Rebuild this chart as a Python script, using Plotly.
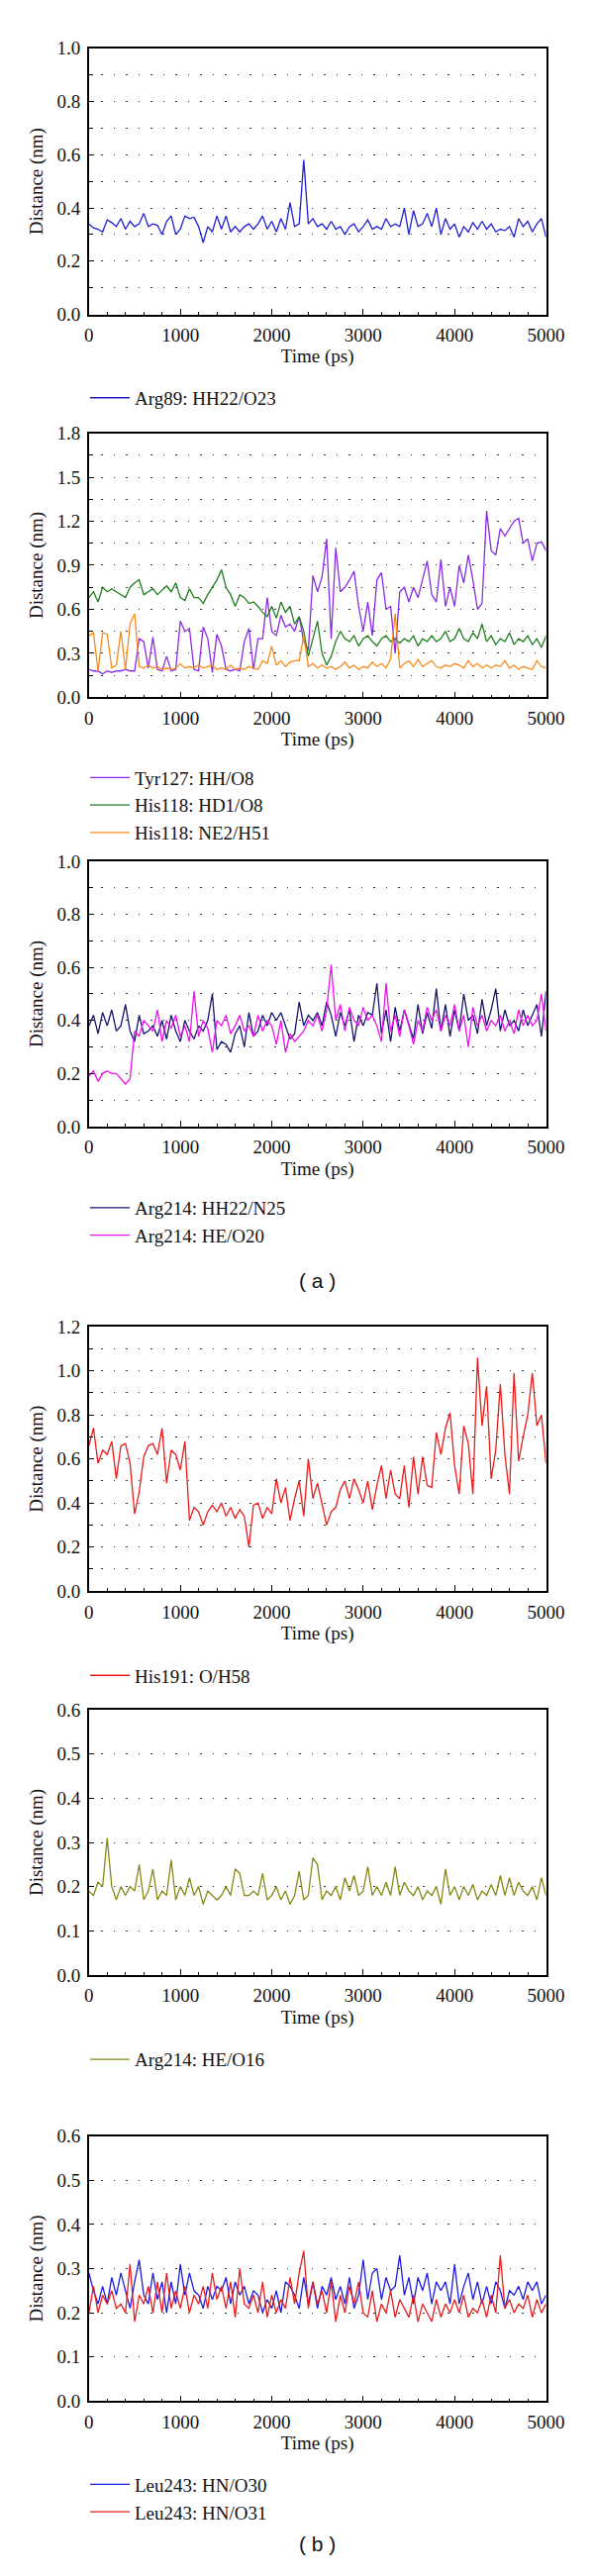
import plotly.graph_objects as go

# ---------------- data ----------------
time_ps = list(range(0, 5001, 50))

arg89_hh22_o23 = [
    0.34, 0.325, 0.32, 0.31, 0.355, 0.345, 0.33, 0.36, 0.32, 0.35,
    0.33, 0.34, 0.38, 0.33, 0.34, 0.335, 0.30, 0.35, 0.37, 0.30,
    0.32, 0.37, 0.36, 0.365, 0.33, 0.27, 0.33, 0.31, 0.37, 0.32,
    0.37, 0.31, 0.33, 0.31, 0.33, 0.34, 0.32, 0.34, 0.37, 0.32,
    0.35, 0.31, 0.36, 0.32, 0.42, 0.33, 0.34, 0.58, 0.34, 0.36,
    0.33, 0.34, 0.32, 0.35, 0.32, 0.33, 0.30, 0.33, 0.34, 0.31,
    0.33, 0.355, 0.32, 0.33, 0.32, 0.36, 0.33, 0.34, 0.33, 0.40,
    0.30, 0.39, 0.33, 0.34, 0.38, 0.33, 0.40, 0.30, 0.36, 0.32,
    0.34, 0.29, 0.33, 0.31, 0.345, 0.32, 0.35, 0.32, 0.34, 0.31,
    0.32, 0.315, 0.33, 0.29, 0.36, 0.33, 0.35, 0.31, 0.34, 0.36,
    0.29]

tyr127_hh_o8 = [
    0.19, 0.18, 0.18, 0.16, 0.18, 0.17, 0.18, 0.18, 0.19, 0.18,
    0.18, 0.40, 0.38, 0.20, 0.41, 0.19, 0.18, 0.28, 0.18, 0.19,
    0.52, 0.45, 0.47, 0.19, 0.18, 0.48, 0.40, 0.17, 0.43, 0.35,
    0.19, 0.18, 0.19, 0.18, 0.38, 0.47, 0.19, 0.40, 0.40, 0.68,
    0.45, 0.42, 0.56, 0.48, 0.50, 0.45, 0.55, 0.38, 0.32, 0.83,
    0.72, 0.82, 1.08, 0.40, 1.02, 0.72, 0.75, 0.80, 0.86, 0.62,
    0.45, 0.65, 0.42, 0.80, 0.85, 0.60, 0.62, 0.30, 0.72, 0.75,
    0.65, 0.75, 0.68, 0.80, 0.93, 0.70, 0.65, 0.94, 0.62, 0.75,
    0.62, 0.90, 0.78, 0.97, 0.80, 0.60, 0.64, 1.27, 1.00, 0.97,
    1.15, 1.10, 1.15, 1.20, 1.22, 1.05, 1.08, 0.93, 1.05, 1.06,
    1.00]

his118_hd1_o8 = [
    0.68, 0.72, 0.65, 0.75, 0.72, 0.74, 0.72, 0.70, 0.68, 0.75,
    0.78, 0.80, 0.70, 0.72, 0.74, 0.70, 0.73, 0.76, 0.72, 0.78,
    0.68, 0.66, 0.74, 0.68, 0.68, 0.64, 0.70, 0.75, 0.80, 0.87,
    0.75, 0.70, 0.62, 0.70, 0.68, 0.64, 0.65, 0.62, 0.58, 0.55,
    0.62, 0.54, 0.65, 0.58, 0.62, 0.50, 0.55, 0.45, 0.28, 0.40,
    0.52, 0.30, 0.22, 0.28, 0.38, 0.45, 0.40, 0.38, 0.42, 0.35,
    0.40, 0.42, 0.38, 0.35, 0.40, 0.42, 0.38, 0.40, 0.37, 0.40,
    0.38, 0.42, 0.35, 0.40, 0.38, 0.42, 0.38, 0.40, 0.45, 0.38,
    0.40, 0.47, 0.40, 0.38, 0.44, 0.40, 0.50, 0.38, 0.42, 0.36,
    0.40, 0.38, 0.44, 0.36, 0.40, 0.38, 0.42, 0.36, 0.40, 0.34,
    0.42]

his118_ne2_h51 = [
    0.42, 0.44, 0.18, 0.44, 0.43, 0.20, 0.22, 0.45, 0.19, 0.50,
    0.57, 0.21, 0.20, 0.22, 0.20, 0.21, 0.19, 0.20, 0.19, 0.20,
    0.23, 0.20, 0.21, 0.20, 0.22, 0.20, 0.21, 0.22, 0.19, 0.20,
    0.19, 0.22, 0.19, 0.20, 0.19, 0.21, 0.20, 0.19, 0.25, 0.23,
    0.35, 0.22, 0.25, 0.21, 0.24, 0.25, 0.25, 0.42, 0.21, 0.23,
    0.20, 0.22, 0.20, 0.21, 0.19, 0.21, 0.24, 0.20, 0.22, 0.19,
    0.21, 0.20, 0.24, 0.21, 0.23, 0.20, 0.26, 0.57, 0.20, 0.23,
    0.25, 0.21, 0.26, 0.21, 0.23, 0.25, 0.21, 0.20, 0.22, 0.21,
    0.23, 0.22, 0.20, 0.25, 0.21, 0.23, 0.20, 0.22, 0.20, 0.22,
    0.21, 0.25, 0.20, 0.22, 0.19, 0.21, 0.20, 0.19, 0.25, 0.21,
    0.20]

arg214_hh22_n25 = [
    0.38, 0.42, 0.35, 0.43, 0.38, 0.44, 0.36, 0.38, 0.46, 0.36,
    0.32, 0.42, 0.35, 0.36, 0.38, 0.34, 0.40, 0.33, 0.42, 0.36,
    0.32, 0.40, 0.36, 0.33, 0.38, 0.36, 0.40, 0.50, 0.29, 0.32,
    0.31, 0.28, 0.35, 0.38, 0.30, 0.43, 0.34, 0.36, 0.42, 0.38,
    0.43, 0.40, 0.43, 0.38, 0.33, 0.35, 0.47, 0.38, 0.42, 0.40,
    0.43, 0.38, 0.47, 0.42, 0.34, 0.43, 0.38, 0.44, 0.32, 0.42,
    0.38, 0.43, 0.42, 0.54, 0.35, 0.44, 0.32, 0.45, 0.36, 0.44,
    0.38, 0.33, 0.46, 0.35, 0.43, 0.37, 0.52, 0.36, 0.46, 0.34,
    0.44, 0.36, 0.50, 0.40, 0.42, 0.35, 0.48, 0.38, 0.44, 0.52,
    0.36, 0.44, 0.38, 0.40, 0.36, 0.44, 0.38, 0.42, 0.46, 0.34,
    0.51]

arg214_he_o20 = [
    0.19, 0.21, 0.17, 0.20, 0.21, 0.20, 0.20, 0.18, 0.16, 0.18,
    0.36, 0.34, 0.40, 0.38, 0.36, 0.44, 0.32, 0.40, 0.37, 0.42,
    0.34, 0.38, 0.32, 0.51, 0.34, 0.40, 0.37, 0.28, 0.40, 0.38,
    0.42, 0.35, 0.38, 0.42, 0.36, 0.38, 0.34, 0.42, 0.36, 0.40,
    0.38, 0.31, 0.40, 0.28, 0.35, 0.32, 0.34, 0.36, 0.40, 0.38,
    0.42, 0.36, 0.44, 0.61, 0.40, 0.46, 0.36, 0.45, 0.40, 0.38,
    0.45, 0.40, 0.42, 0.38, 0.32, 0.54, 0.36, 0.42, 0.34, 0.44,
    0.38, 0.31, 0.40, 0.36, 0.45, 0.40, 0.44, 0.36, 0.42, 0.38,
    0.46, 0.36, 0.42, 0.30, 0.45, 0.38, 0.42, 0.36, 0.40, 0.38,
    0.42, 0.36, 0.40, 0.35, 0.44, 0.38, 0.42, 0.38, 0.40, 0.50,
    0.36]

his191_o_h58 = [
    0.66, 0.74, 0.58, 0.64, 0.62, 0.68, 0.51, 0.66, 0.67, 0.58,
    0.35, 0.45, 0.61, 0.66, 0.67, 0.62, 0.74, 0.49, 0.64, 0.62,
    0.55, 0.68, 0.32, 0.38, 0.36, 0.30, 0.36, 0.39, 0.36, 0.40,
    0.34, 0.38, 0.33, 0.37, 0.34, 0.20, 0.39, 0.40, 0.33, 0.38,
    0.35, 0.51, 0.40, 0.47, 0.32, 0.42, 0.50, 0.34, 0.60, 0.42,
    0.49, 0.40, 0.30, 0.36, 0.38, 0.46, 0.50, 0.42, 0.51, 0.46,
    0.40, 0.50, 0.37, 0.48, 0.57, 0.42, 0.55, 0.44, 0.42, 0.57,
    0.38, 0.61, 0.44, 0.61, 0.48, 0.47, 0.72, 0.62, 0.74, 0.81,
    0.57, 0.44, 0.75, 0.67, 0.44, 1.06, 0.75, 0.93, 0.51, 0.64,
    0.94, 0.62, 0.44, 0.99, 0.59, 0.70, 0.80, 0.99, 0.75, 0.80,
    0.58]

arg214_he_o16 = [
    0.19, 0.18, 0.21, 0.20, 0.31, 0.20, 0.17, 0.20, 0.18, 0.20,
    0.19, 0.25, 0.17, 0.19, 0.24, 0.17, 0.19, 0.18, 0.26, 0.17,
    0.20, 0.18, 0.22, 0.18, 0.20, 0.16, 0.19, 0.18, 0.17, 0.18,
    0.20, 0.18, 0.24, 0.23, 0.18, 0.18, 0.19, 0.18, 0.23, 0.17,
    0.18, 0.20, 0.17, 0.19, 0.16, 0.18, 0.235, 0.17, 0.18, 0.265,
    0.25, 0.17, 0.19, 0.18, 0.20, 0.17, 0.22, 0.19, 0.225, 0.18,
    0.19, 0.245, 0.18, 0.20, 0.18, 0.21, 0.18, 0.245, 0.18, 0.21,
    0.19, 0.18, 0.20, 0.17, 0.19, 0.18, 0.20, 0.16, 0.24, 0.18,
    0.20, 0.17, 0.20, 0.18, 0.205, 0.17, 0.19, 0.18, 0.205, 0.18,
    0.225, 0.18, 0.22, 0.18, 0.21, 0.19, 0.18, 0.20, 0.17, 0.22,
    0.18]

leu243_hn_o30 = [
    0.29, 0.25, 0.22, 0.26, 0.22, 0.28, 0.24, 0.29, 0.25, 0.21,
    0.27, 0.32, 0.24, 0.22, 0.29, 0.23, 0.27, 0.20, 0.27, 0.22,
    0.31, 0.24, 0.29, 0.25, 0.24, 0.21, 0.26, 0.23, 0.26, 0.25,
    0.28, 0.22, 0.27, 0.24, 0.26, 0.22, 0.25, 0.24, 0.20, 0.23,
    0.21, 0.25, 0.20, 0.27, 0.26, 0.24, 0.21, 0.28, 0.22, 0.27,
    0.21, 0.26, 0.24, 0.28, 0.23, 0.26, 0.22, 0.28, 0.21, 0.24,
    0.32, 0.23, 0.29, 0.30, 0.23, 0.28, 0.25, 0.26, 0.33, 0.24,
    0.28, 0.22, 0.28, 0.25, 0.29, 0.22, 0.27, 0.25, 0.27, 0.22,
    0.31, 0.22, 0.26, 0.29, 0.23, 0.27, 0.22, 0.26, 0.22, 0.27,
    0.25, 0.21, 0.25, 0.24, 0.26, 0.23, 0.27, 0.25, 0.27, 0.22,
    0.24]

leu243_hn_o31 = [
    0.20, 0.26, 0.20, 0.24, 0.22, 0.25, 0.21, 0.22, 0.20, 0.31,
    0.18, 0.24, 0.22, 0.26, 0.20, 0.27, 0.20, 0.29, 0.21, 0.25,
    0.21, 0.26, 0.20, 0.24, 0.22, 0.26, 0.21, 0.29, 0.23, 0.26,
    0.21, 0.27, 0.19, 0.30, 0.22, 0.21, 0.24, 0.20, 0.27, 0.19,
    0.24, 0.20, 0.23, 0.21, 0.28, 0.22, 0.29, 0.34, 0.21, 0.27,
    0.22, 0.25, 0.20, 0.27, 0.18, 0.24, 0.20, 0.26, 0.22, 0.27,
    0.20, 0.19, 0.25, 0.18, 0.22, 0.20, 0.25, 0.19, 0.23, 0.21,
    0.19, 0.24, 0.18, 0.22, 0.20, 0.18, 0.23, 0.19, 0.22, 0.20,
    0.23, 0.20, 0.24, 0.19, 0.21, 0.20, 0.23, 0.19, 0.24, 0.20,
    0.33, 0.21, 0.23, 0.20, 0.22, 0.21, 0.24, 0.19, 0.23, 0.20,
    0.22]

x_tick_vals = [0, 1000, 2000, 3000, 4000, 5000]
x_title = "Time (ps)"
y_title = "Distance (nm)"
panel_labels = ["( a )", "( b )"]

# ---------------- layout / styling ----------------
W, H = 600, 2602
X0, X1 = 80, 561
SERIF = "Liberation Serif"
SANS = "Liberation Sans"
FS = 19
TXT = "#111"

panels = [
    dict(top=31, bottom=302, ymax=1.0, dtick=0.2, minor=0.1, leg=387,
         series=[("Arg89: HH22/O23", arg89_hh22_o23, "#1f1fd2")]),
    dict(top=423, bottom=692, ymax=1.8, dtick=0.3, minor=0.15, leg=802,
         series=[("Tyr127: HH/O8", tyr127_hh_o8, "#8a2be6"),
                 ("His118: HD1/O8", his118_hd1_o8, "#1e7e1e"),
                 ("His118: NE2/H51", his118_ne2_h51, "#f88a1c")]),
    dict(top=859, bottom=1129, ymax=1.0, dtick=0.2, minor=0.1, leg=1226,
         series=[("Arg214: HH22/N25", arg214_hh22_n25, "#15156e"),
                 ("Arg214: HE/O20", arg214_he_o20, "#ee10ee")]),
    dict(top=1333, bottom=1602, ymax=1.2, dtick=0.2, minor=0.1, leg=1688,
         series=[("His191: O/H58", his191_o_h58, "#ea1a1a")]),
    dict(top=1723, bottom=1993, ymax=0.6, dtick=0.1, minor=None, leg=2079,
         series=[("Arg214: HE/O16", arg214_he_o16, "#878714")]),
    dict(top=2157, bottom=2427, ymax=0.6, dtick=0.1, minor=None, leg=2526,
         series=[("Leu243: HN/O30", leu243_hn_o30, "#1c1ce0"),
                 ("Leu243: HN/O31", leu243_hn_o31, "#e81c1c")]),
]

fig = go.Figure()
layout = dict(
    width=W, height=H,
    margin=dict(l=0, r=0, t=0, b=0),
    paper_bgcolor="white", plot_bgcolor="white",
    font=dict(family=SERIF, size=FS, color=TXT),
    showlegend=True,
)

grid_style = dict(gridcolor="#333", gridwidth=1.4, griddash="1.5px,11px")

for i, p in enumerate(panels, start=1):
    sfx = "" if i == 1 else str(i)
    leg_name = "legend" + sfx
    for name, vals, color in p["series"]:
        fig.add_trace(go.Scatter(
            x=time_ps, y=vals, mode="lines", name=name,
            line=dict(color=color, width=1.3),
            xaxis="x" + sfx, yaxis="y" + sfx, legend=leg_name,
        ))
    ydom = [1 - p["bottom"] / H, 1 - p["top"] / H]
    layout["xaxis" + sfx] = dict(
        domain=[X0 / W, X1 / W], anchor="y" + sfx,
        range=[0, 5000], tickvals=x_tick_vals,
        ticks="inside", ticklen=6, tickwidth=1.2, tickcolor="black",
        minor=dict(dtick=200, ticks="inside", ticklen=3, tickwidth=1, tickcolor="black"),
        showline=True, linecolor="black", linewidth=1.5, mirror=True,
        showgrid=False, zeroline=False,
        tickfont=dict(family=SERIF, size=FS, color=TXT),
        ticklabelstandoff=3,
        title=dict(text=x_title, font=dict(family=SERIF, size=FS, color=TXT), standoff=5),
    )
    yax = dict(
        domain=ydom, anchor="x" + sfx,
        range=[0, p["ymax"]], dtick=p["dtick"], tick0=0, tickformat=".1f",
        ticks="inside", ticklen=5, tickwidth=1.2, tickcolor="black",
        showline=True, linecolor="black", linewidth=1.5, mirror=True,
        showgrid=True, zeroline=False,
        tickfont=dict(family=SERIF, size=FS, color=TXT),
        ticklabelstandoff=3,
        title=dict(text=y_title, font=dict(family=SERIF, size=FS, color=TXT), standoff=9),
        **grid_style,
    )
    if p["minor"]:
        yax["minor"] = dict(dtick=p["minor"], tick0=0, ticks="inside", ticklen=4,
                            tickwidth=1, tickcolor="black", showgrid=True, **grid_style)
    layout["yaxis" + sfx] = yax
    layout[leg_name] = dict(
        x=76 / W, xanchor="left", y=1 - p["leg"] / H, yanchor="middle",
        bgcolor="rgba(0,0,0,0)", borderwidth=0,
        font=dict(family=SERIF, size=FS, color=TXT),
        itemwidth=40, tracegroupgap=0,
    )

layout["annotations"] = [
    dict(text=panel_labels[0], x=320.5 / W, y=1 - 1286 / H, xref="paper", yref="paper",
         showarrow=False, font=dict(family=SANS, size=21, color=TXT)),
    dict(text=panel_labels[1], x=320.5 / W, y=1 - 2586 / H, xref="paper", yref="paper",
         showarrow=False, font=dict(family=SANS, size=21, color=TXT)),
]

fig.update_layout(**layout)
fig.write_html("out.html")
